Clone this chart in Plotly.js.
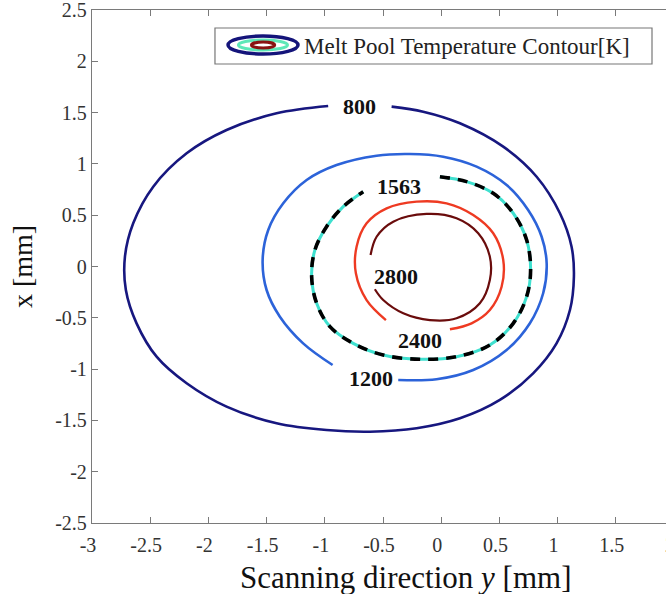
<!DOCTYPE html>
<html>
<head>
<meta charset="utf-8">
<script src="https://cdn.plot.ly/plotly-3.0.1.min.js"></script>
<style>
html,body{margin:0;padding:0;overflow:hidden;background:#fff;width:666px;height:594px;}
#chart{width:676px;height:594px;}
</style>
</head>
<body>
<div id="chart"></div>
<script>
// Contour points: horizontal = scanning direction y [mm], vertical = x [mm]
var scan800 = [-0.426, -0.155, 0.161, 0.533, 0.820, 1.020, 1.120, 1.140, 1.106, 0.991, 0.790, 0.504, 0.161, -0.211, -0.613, -0.985, -1.414, -1.844, -2.187, -2.445, -2.617, -2.709, -2.717, -2.646, -2.474, -2.187, -1.844, -1.414, -0.971];
var xpos800 = [1.558, 1.509, 1.396, 1.168, 0.875, 0.519, 0.193, -0.099, -0.424, -0.749, -1.041, -1.301, -1.480, -1.577, -1.610, -1.594, -1.528, -1.366, -1.138, -0.879, -0.554, -0.229, 0.096, 0.421, 0.778, 1.103, 1.330, 1.493, 1.564];

var scan1200 = [-0.369, -0.040, 0.275, 0.562, 0.762, 0.876, 0.906, 0.863, 0.747, 0.562, 0.304, 0.017, -0.269, -0.555, -0.899, -1.156, -1.357, -1.486, -1.534, -1.500, -1.386, -1.186, -0.933];
var xpos1200 = [-1.106, -1.099, -1.009, -0.814, -0.553, -0.261, 0.031, 0.290, 0.551, 0.794, 0.973, 1.070, 1.096, 1.080, 0.989, 0.843, 0.616, 0.356, 0.063, -0.229, -0.489, -0.749, -0.960];

var scan1563 = [-0.011, 0.218, 0.447, 0.619, 0.734, 0.768, 0.734, 0.619, 0.418, 0.132, -0.183, -0.498, -0.756, -0.956, -1.070, -1.113, -1.085, -0.985, -0.842, -0.670];
var xpos1563 = [0.875, 0.827, 0.713, 0.519, 0.258, -0.034, -0.294, -0.554, -0.765, -0.879, -0.904, -0.863, -0.749, -0.586, -0.359, -0.099, 0.161, 0.388, 0.583, 0.729];

var scan2400 = [0.075, 0.261, 0.418, 0.519, 0.533, 0.447, 0.275, 0.046, -0.211, -0.469, -0.641, -0.727, -0.733, -0.641, -0.475];
var xpos2400 = [-0.612, -0.554, -0.424, -0.197, 0.063, 0.324, 0.502, 0.616, 0.632, 0.567, 0.421, 0.193, -0.066, -0.327, -0.522];

var scan2800 = [-0.607, -0.555, -0.412, -0.125, 0.132, 0.318, 0.418, 0.418, 0.332, 0.132, -0.097, -0.326, -0.498, -0.570];
var xpos2800 = [0.112, 0.290, 0.437, 0.512, 0.470, 0.324, 0.096, -0.132, -0.359, -0.505, -0.522, -0.456, -0.327, -0.222];

// Contour labels
var labelText = ['800', '1200', '1563', '2400', '2800'];
var labelScan = [-0.698, -0.607, -0.361, -0.183, -0.389];
var labelX = [1.558, -1.090, 0.778, -0.723, -0.093];

var xTickVals = [-3, -2.5, -2, -1.5, -1, -0.5, 0, 0.5, 1, 1.5, 2];
var yTickVals = [-2.5, -2, -1.5, -1, -0.5, 0, 0.5, 1, 1.5, 2, 2.5];
var legendLabel = 'Melt Pool Temperature Contour[K]';
var xTitle = 'Scanning direction <i>y</i> [mm]';
var yTitle = 'x [mm]';

function line(xs, ys, color, width, dash) {
  return {
    type: 'scatter', mode: 'lines', x: xs, y: ys, showlegend: false, hoverinfo: 'skip',
    line: {color: color, width: width, shape: 'spline', smoothing: 1.0, dash: dash || 'solid'}
  };
}

var traces = [
  line(scan800, xpos800, '#17177f', 2.6),
  line(scan1200, xpos1200, '#2c63d9', 2.6),
  line(scan1563, xpos1563, '#3fe0cf', 3),
  line(scan1563, xpos1563, '#000000', 3.6, '10px,8px'),
  line(scan2400, xpos2400, '#ee3a22', 2.4),
  line(scan2800, xpos2800, '#6a0c0c', 2.2)
];

var serif = 'Liberation Serif, Times New Roman, serif';

var annotations = labelText.map(function (t, i) {
  return {
    x: labelScan[i], y: labelX[i], xref: 'x', yref: 'y', text: '<b>' + t + '</b>',
    showarrow: false, font: {family: serif, size: 22, color: '#111'},
    xanchor: 'center', yanchor: 'middle'
  };
});
annotations.push({
  xref: 'paper', yref: 'paper', x: 0.3610, y: 0.9298, text: legendLabel,
  showarrow: false, xanchor: 'left', yanchor: 'middle',
  font: {family: serif, size: 23, color: '#222'}
});
annotations.push({
  xref: 'paper', yref: 'paper', x: 0.5395, y: -0.106, text: xTitle,
  showarrow: false, xanchor: 'center', yanchor: 'middle',
  font: {family: serif, size: 31, color: '#111'}
});

var shapes = [
  {type: 'rect', xref: 'paper', yref: 'paper', x0: 0.2113, x1: 0.9622, y0: 0.8947, y1: 0.9649,
   line: {color: '#777', width: 1.2}, fillcolor: '#fff'},
  {type: 'circle', xref: 'paper', yref: 'paper', x0: 0.2337, x1: 0.3540, y0: 0.9142, y1: 0.9493,
   line: {color: '#14147a', width: 3.5}, fillcolor: '#fff'},
  {type: 'circle', xref: 'paper', yref: 'paper', x0: 0.2515, x1: 0.3360, y0: 0.9220, y1: 0.9415,
   line: {color: '#5ee8b8', width: 3}, fillcolor: '#fff'},
  {type: 'circle', xref: 'paper', yref: 'paper', x0: 0.2740, x1: 0.3140, y0: 0.9260, y1: 0.9375,
   line: {color: '#8a1212', width: 3}, fillcolor: '#fff'}
];

var axisCommon = {
  showgrid: false, zeroline: false, showline: true, linecolor: '#7a7a7a', linewidth: 1.2,
  mirror: 'ticks', ticks: 'inside', ticklen: 6, tickcolor: '#7a7a7a', tickwidth: 1,
  ticklabeloverflow: 'allow',
  tickfont: {family: serif, size: 20, color: '#333'}
};

var layout = {
  width: 676, height: 594,
  margin: {l: 92, r: 2, t: 10, b: 71},
  paper_bgcolor: '#fff', plot_bgcolor: '#fff',
  showlegend: false,
  xaxis: Object.assign({}, axisCommon, {
    range: [-3, 2], tickmode: 'array', tickvals: xTickVals, ticktext: xTickVals.map(String),
    ticklabelstandoff: 4, ticklabelshift: -4
  }),
  yaxis: Object.assign({}, axisCommon, {
    range: [-2.5, 2.5], tickmode: 'array', tickvals: yTickVals, ticktext: yTickVals.map(String),
    title: {text: yTitle, font: {family: serif, size: 28, color: '#111'}, standoff: 14}
  }),
  annotations: annotations,
  shapes: shapes
};

Plotly.newPlot('chart', traces, layout, {displayModeBar: false, staticPlot: true});
</script>
</body>
</html>
